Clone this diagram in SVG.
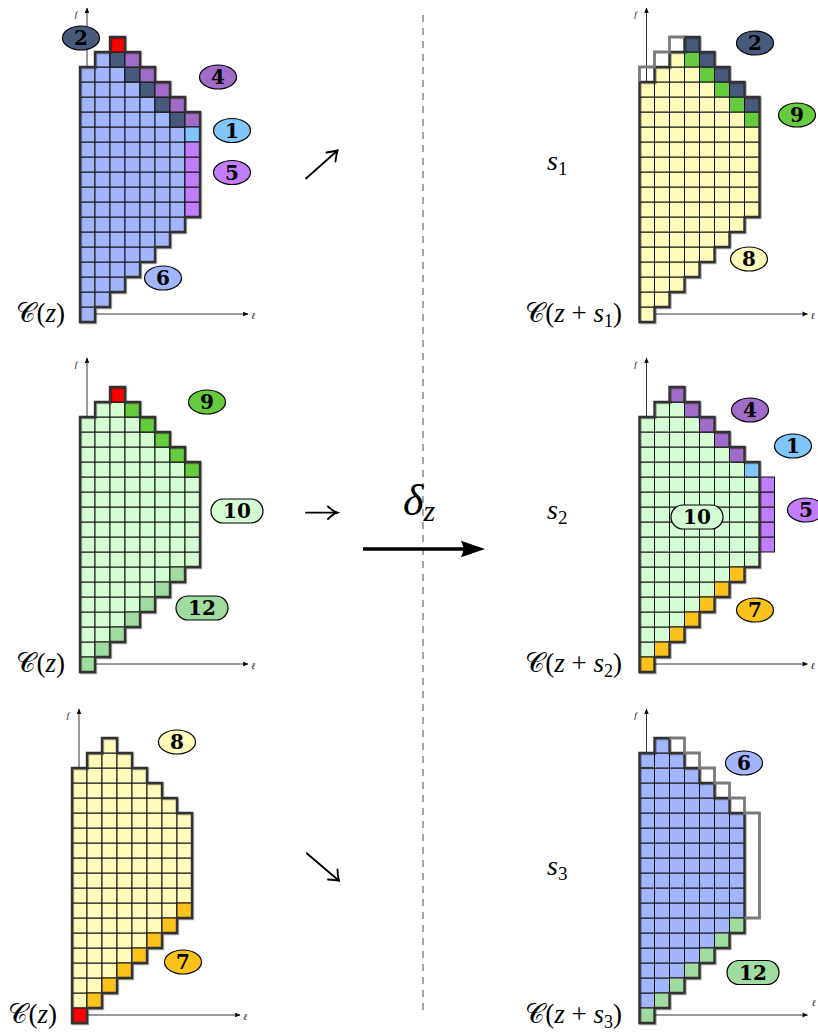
<svg xmlns="http://www.w3.org/2000/svg" xmlns:xlink="http://www.w3.org/1999/xlink" width="818" height="1035" viewBox="0 0 818 1035">
<style>
.g rect,.cells rect{width:15px;height:15px;stroke:#111;stroke-width:1}
.lb{fill:#a3b5fd}.nv{fill:#485a7b}.pu{fill:#a06cc8}.sk{fill:#80c6fd}.vi{fill:#c17dfb}.rd{fill:#ff0000}
.ye{fill:#fffbbb}.dg{fill:#66cc3e}.lg{fill:#d5fdd4}.mg{fill:#a0dba0}.or{fill:#fcc21c}
.cells .nv{fill:#485a7b}.cells .pu{fill:#a06cc8}.cells .sk{fill:#80c6fd}.cells .vi{fill:#c17dfb}.cells .rd{fill:#ff0000}
.cells .dg{fill:#66cc3e}.cells .mg{fill:#a0dba0}.cells .or{fill:#fcc21c}
.ol{fill:none;stroke:#333;stroke-width:2.4;filter:url(#sh)}
.gh{fill:none;stroke:#7a7a7a;stroke-width:2.8}
.ax{fill:none;stroke:#000;stroke-width:0.8;marker-end:url(#ah)}
.bd ellipse,.bd rect{stroke:#000;stroke-width:1.2}
.bd text{font-family:"DejaVu Serif",serif;font-weight:bold;font-size:20px;text-anchor:middle;fill:#000}
.m{font-family:"Liberation Serif",serif;fill:#000}
.cl{font-size:27px}
.sl{font-size:28px}
.it{font-style:italic}
.cal{font-family:"DejaVu Serif","DejaVu Sans","Noto Sans",serif;font-style:normal}
.sm{font-family:"Liberation Serif",serif;font-style:italic;font-size:9px}
.sym{fill:none;stroke:#000;stroke-width:1.8;stroke-linecap:round}
</style>
<defs>
<filter id="sh" x="-10%" y="-10%" width="120%" height="120%"><feDropShadow dx="0.8" dy="0.8" stdDeviation="0.7" flood-color="#000" flood-opacity="0.45"/></filter>
<marker id="ah" viewBox="0 0 10 10" refX="9" refY="5" markerWidth="6" markerHeight="6" orient="auto" markerUnits="userSpaceOnUse"><path d="M0,1 L10,5 L0,9 Q2.5,5 0,1Z" fill="#000"/></marker>
<g id="shA" class="g">
<rect x="0" y="-15"/><rect x="0" y="-30"/><rect x="0" y="-45"/><rect x="0" y="-60"/><rect x="0" y="-75"/><rect x="0" y="-90"/><rect x="0" y="-105"/><rect x="0" y="-120"/><rect x="0" y="-135"/><rect x="0" y="-150"/><rect x="0" y="-165"/><rect x="0" y="-180"/><rect x="0" y="-195"/><rect x="0" y="-210"/><rect x="0" y="-225"/><rect x="0" y="-240"/><rect x="0" y="-255"/>
<rect x="15" y="-30"/><rect x="15" y="-45"/><rect x="15" y="-60"/><rect x="15" y="-75"/><rect x="15" y="-90"/><rect x="15" y="-105"/><rect x="15" y="-120"/><rect x="15" y="-135"/><rect x="15" y="-150"/><rect x="15" y="-165"/><rect x="15" y="-180"/><rect x="15" y="-195"/><rect x="15" y="-210"/><rect x="15" y="-225"/><rect x="15" y="-240"/><rect x="15" y="-255"/><rect x="15" y="-270"/>
<rect x="30" y="-45"/><rect x="30" y="-60"/><rect x="30" y="-75"/><rect x="30" y="-90"/><rect x="30" y="-105"/><rect x="30" y="-120"/><rect x="30" y="-135"/><rect x="30" y="-150"/><rect x="30" y="-165"/><rect x="30" y="-180"/><rect x="30" y="-195"/><rect x="30" y="-210"/><rect x="30" y="-225"/><rect x="30" y="-240"/><rect x="30" y="-255"/><rect x="30" y="-270"/><rect x="30" y="-285"/>
<rect x="45" y="-60"/><rect x="45" y="-75"/><rect x="45" y="-90"/><rect x="45" y="-105"/><rect x="45" y="-120"/><rect x="45" y="-135"/><rect x="45" y="-150"/><rect x="45" y="-165"/><rect x="45" y="-180"/><rect x="45" y="-195"/><rect x="45" y="-210"/><rect x="45" y="-225"/><rect x="45" y="-240"/><rect x="45" y="-255"/><rect x="45" y="-270"/>
<rect x="60" y="-75"/><rect x="60" y="-90"/><rect x="60" y="-105"/><rect x="60" y="-120"/><rect x="60" y="-135"/><rect x="60" y="-150"/><rect x="60" y="-165"/><rect x="60" y="-180"/><rect x="60" y="-195"/><rect x="60" y="-210"/><rect x="60" y="-225"/><rect x="60" y="-240"/><rect x="60" y="-255"/>
<rect x="75" y="-90"/><rect x="75" y="-105"/><rect x="75" y="-120"/><rect x="75" y="-135"/><rect x="75" y="-150"/><rect x="75" y="-165"/><rect x="75" y="-180"/><rect x="75" y="-195"/><rect x="75" y="-210"/><rect x="75" y="-225"/><rect x="75" y="-240"/>
<rect x="90" y="-105"/><rect x="90" y="-120"/><rect x="90" y="-135"/><rect x="90" y="-150"/><rect x="90" y="-165"/><rect x="90" y="-180"/><rect x="90" y="-195"/><rect x="90" y="-210"/><rect x="90" y="-225"/>
<rect x="105" y="-120"/><rect x="105" y="-135"/><rect x="105" y="-150"/><rect x="105" y="-165"/><rect x="105" y="-180"/><rect x="105" y="-195"/><rect x="105" y="-210"/>
</g>
<path id="olA" d="M0,0V-255H15V-270H30V-285H45V-270H60V-255H75V-240H90V-225H105V-210H120V-105H105V-90H90V-75H75V-60H60V-45H45V-30H30V-15H15V0Z"/>
</defs>
<rect width="818" height="1035" fill="#fff"/>

<g id="connectors">
<line x1="423" y1="15" x2="423" y2="1010" stroke="#777" stroke-width="1.3" stroke-dasharray="7 6"/>
<g id="arrow-s1" class="sym"><path d="M306,178.5 L337.5,150.5"/><path d="M326.5,152.5 Q333,151.5 337.5,150.5 Q336,156 335.5,161.5"/></g>
<g id="arrow-s2" class="sym"><path d="M306,512.7 H337.3"/><path d="M328,506.5 Q333,511.5 337.3,512.7 Q333,514 328,519"/></g>
<g id="arrow-s3" class="sym"><path d="M306.7,853.3 L339,880.7"/><path d="M328,879.5 Q334,880 339,880.7 Q337.5,875.5 337.5,869.5"/></g>
<g id="arrow-delta"><path d="M363,549 H467" stroke="#000" stroke-width="3.4" fill="none"/><path d="M485,549 L461,540.8 Q465.5,549 461,557.2 Z" fill="#000"/></g>
</g>
<text class="m it" x="403" y="515" style="font-size:44px">δ<tspan style="font-size:30px" dy="6">z</tspan></text>
<text class="m it sl" x="547" y="170">s<tspan style="font-style:normal;font-size:19px" dy="5">1</tspan></text>
<text class="m it sl" x="547" y="519">s<tspan style="font-style:normal;font-size:19px" dy="5">2</tspan></text>
<text class="m it sl" x="547" y="875">s<tspan style="font-style:normal;font-size:19px" dy="5">3</tspan></text>

<!-- Panel 1: C(z), top left -->
<g id="panel-tl">
<g transform="translate(80,322)">
<path class="ax" d="M7,-8 V-314"/><path class="ax" d="M7,-8 H168"/>
<text class="sm" x="-4" y="-305" text-anchor="middle">f</text><text class="sm" x="173" y="-3" text-anchor="middle">ℓ</text>
<use href="#shA" class="lb"/>
<g class="cells">
<rect class="nv" x="30" y="-270"/><rect class="nv" x="45" y="-255"/><rect class="nv" x="60" y="-240"/><rect class="nv" x="75" y="-225"/><rect class="nv" x="90" y="-210"/>
<rect class="rd" x="30" y="-285"/>
<rect class="pu" x="45" y="-270"/><rect class="pu" x="60" y="-255"/><rect class="pu" x="75" y="-240"/><rect class="pu" x="90" y="-225"/><rect class="pu" x="105" y="-210"/>
<rect class="sk" x="105" y="-195"/>
<rect class="vi" x="105" y="-120"/><rect class="vi" x="105" y="-135"/><rect class="vi" x="105" y="-150"/><rect class="vi" x="105" y="-165"/><rect class="vi" x="105" y="-180"/>
</g>
<use href="#olA" class="ol"/>
</g>
<text class="m cl" x="65" y="322" text-anchor="end"><tspan class="cal">𝒞</tspan>(<tspan class="it">z</tspan>)</text>
<g id="tl-b2" class="bd"><ellipse class="nv" cx="81" cy="38" rx="18.5" ry="12"/><text x="81" y="45">2</text></g>
<g id="tl-b4" class="bd"><ellipse class="pu" cx="218" cy="77" rx="18.5" ry="12"/><text x="218" y="84">4</text></g>
<g id="tl-b1" class="bd"><ellipse class="sk" cx="232" cy="130.5" rx="18.5" ry="12"/><text x="232" y="137.5">1</text></g>
<g id="tl-b5" class="bd"><ellipse class="vi" cx="232" cy="172.5" rx="18.5" ry="12"/><text x="232" y="179.5">5</text></g>
<g id="tl-b6" class="bd"><ellipse class="lb" cx="163" cy="278" rx="18.5" ry="12"/><text x="163" y="285">6</text></g>
</g>

<!-- Panel 2: C(z+s1), top right -->
<g id="panel-tr">
<g transform="translate(639.5,322)">
<path class="ax" d="M7,-8 V-314"/><path class="ax" d="M7,-8 H168"/>
<text class="sm" x="-4" y="-305" text-anchor="middle">f</text><text class="sm" x="173" y="-3" text-anchor="middle">ℓ</text>
<g class="cells ye">
<rect x="0" y="-15"/><rect x="0" y="-30"/><rect x="0" y="-45"/><rect x="0" y="-60"/><rect x="0" y="-75"/><rect x="0" y="-90"/><rect x="0" y="-105"/><rect x="0" y="-120"/><rect x="0" y="-135"/><rect x="0" y="-150"/><rect x="0" y="-165"/><rect x="0" y="-180"/><rect x="0" y="-195"/><rect x="0" y="-210"/><rect x="0" y="-225"/><rect x="0" y="-240"/>
<rect x="15" y="-30"/><rect x="15" y="-45"/><rect x="15" y="-60"/><rect x="15" y="-75"/><rect x="15" y="-90"/><rect x="15" y="-105"/><rect x="15" y="-120"/><rect x="15" y="-135"/><rect x="15" y="-150"/><rect x="15" y="-165"/><rect x="15" y="-180"/><rect x="15" y="-195"/><rect x="15" y="-210"/><rect x="15" y="-225"/><rect x="15" y="-240"/><rect x="15" y="-255"/>
<rect x="30" y="-45"/><rect x="30" y="-60"/><rect x="30" y="-75"/><rect x="30" y="-90"/><rect x="30" y="-105"/><rect x="30" y="-120"/><rect x="30" y="-135"/><rect x="30" y="-150"/><rect x="30" y="-165"/><rect x="30" y="-180"/><rect x="30" y="-195"/><rect x="30" y="-210"/><rect x="30" y="-225"/><rect x="30" y="-240"/><rect x="30" y="-255"/><rect x="30" y="-270"/>
<rect x="45" y="-60"/><rect x="45" y="-75"/><rect x="45" y="-90"/><rect x="45" y="-105"/><rect x="45" y="-120"/><rect x="45" y="-135"/><rect x="45" y="-150"/><rect x="45" y="-165"/><rect x="45" y="-180"/><rect x="45" y="-195"/><rect x="45" y="-210"/><rect x="45" y="-225"/><rect x="45" y="-240"/><rect x="45" y="-255"/>
<rect x="60" y="-75"/><rect x="60" y="-90"/><rect x="60" y="-105"/><rect x="60" y="-120"/><rect x="60" y="-135"/><rect x="60" y="-150"/><rect x="60" y="-165"/><rect x="60" y="-180"/><rect x="60" y="-195"/><rect x="60" y="-210"/><rect x="60" y="-225"/><rect x="60" y="-240"/>
<rect x="75" y="-90"/><rect x="75" y="-105"/><rect x="75" y="-120"/><rect x="75" y="-135"/><rect x="75" y="-150"/><rect x="75" y="-165"/><rect x="75" y="-180"/><rect x="75" y="-195"/><rect x="75" y="-210"/><rect x="75" y="-225"/>
<rect x="90" y="-105"/><rect x="90" y="-120"/><rect x="90" y="-135"/><rect x="90" y="-150"/><rect x="90" y="-165"/><rect x="90" y="-180"/><rect x="90" y="-195"/><rect x="90" y="-210"/>
<rect x="105" y="-120"/><rect x="105" y="-135"/><rect x="105" y="-150"/><rect x="105" y="-165"/><rect x="105" y="-180"/><rect x="105" y="-195"/>
<rect class="dg" x="45" y="-270"/><rect class="dg" x="60" y="-255"/><rect class="dg" x="75" y="-240"/><rect class="dg" x="90" y="-225"/><rect class="dg" x="105" y="-210"/>
<rect class="nv" x="45" y="-285"/><rect class="nv" x="60" y="-270"/><rect class="nv" x="75" y="-255"/><rect class="nv" x="90" y="-240"/><rect class="nv" x="105" y="-225"/>
</g>
<path class="ol" d="M0,0V-240H15V-255H30V-270H45V-285H60V-270H75V-255H90V-240H105V-225H120V-105H105V-90H90V-75H75V-60H60V-45H45V-30H30V-15H15V0Z"/>
<path class="gh" d="M0,-240V-255H15V-270H30V-285H45"/>
</g>
<text class="m cl" x="622" y="322" text-anchor="end"><tspan class="cal">𝒞</tspan>(<tspan class="it">z</tspan> + <tspan class="it">s</tspan><tspan style="font-size:18px" dy="5">1</tspan><tspan dy="-5">)</tspan></text>
<g id="tr-b2" class="bd"><ellipse class="nv" cx="755" cy="43" rx="18.5" ry="12"/><text x="755" y="50">2</text></g>
<g id="tr-b9" class="bd"><ellipse class="dg" cx="797" cy="115" rx="18.5" ry="12"/><text x="797" y="122">9</text></g>
<g id="tr-b8" class="bd"><ellipse class="ye" cx="749" cy="259" rx="18.5" ry="12"/><text x="749" y="266">8</text></g>
</g>

<!-- Panel 3: C(z), middle left -->
<g id="panel-ml">
<g transform="translate(80,672)">
<path class="ax" d="M7,-8 V-314"/><path class="ax" d="M7,-8 H168"/>
<text class="sm" x="-4" y="-305" text-anchor="middle">f</text><text class="sm" x="173" y="-3" text-anchor="middle">ℓ</text>
<use href="#shA" class="lg"/>
<g class="cells">
<rect class="mg" x="0" y="-15"/><rect class="mg" x="15" y="-30"/><rect class="mg" x="30" y="-45"/><rect class="mg" x="45" y="-60"/><rect class="mg" x="60" y="-75"/><rect class="mg" x="75" y="-90"/><rect class="mg" x="90" y="-105"/>
<rect class="rd" x="30" y="-285"/>
<rect class="dg" x="45" y="-270"/><rect class="dg" x="60" y="-255"/><rect class="dg" x="75" y="-240"/><rect class="dg" x="90" y="-225"/><rect class="dg" x="105" y="-210"/>
</g>
<use href="#olA" class="ol"/>
</g>
<text class="m cl" x="65" y="672" text-anchor="end"><tspan class="cal">𝒞</tspan>(<tspan class="it">z</tspan>)</text>
<g id="ml-b9" class="bd"><ellipse class="dg" cx="207" cy="402" rx="18.5" ry="12"/><text x="207" y="409">9</text></g>
<g id="ml-b10" class="bd"><rect class="lg" x="211" y="499" width="52" height="24" rx="12"/><text x="237" y="518">10</text></g>
<g id="ml-b12" class="bd"><rect class="mg" x="176" y="596" width="52" height="24" rx="12"/><text x="202" y="615">12</text></g>
</g>

<!-- Panel 4: C(z+s2), middle right -->
<g id="panel-mr">
<g transform="translate(639.5,672)">
<path class="ax" d="M7,-8 V-314"/><path class="ax" d="M7,-8 H168"/>
<text class="sm" x="-4" y="-305" text-anchor="middle">f</text><text class="sm" x="173" y="-3" text-anchor="middle">ℓ</text>
<use href="#shA" class="lg"/>
<g class="cells">
<rect class="or" x="0" y="-15"/><rect class="or" x="15" y="-30"/><rect class="or" x="30" y="-45"/><rect class="or" x="45" y="-60"/><rect class="or" x="60" y="-75"/><rect class="or" x="75" y="-90"/><rect class="or" x="90" y="-105"/>
<rect class="pu" x="30" y="-285"/><rect class="pu" x="45" y="-270"/><rect class="pu" x="60" y="-255"/><rect class="pu" x="75" y="-240"/><rect class="pu" x="90" y="-225"/>
<rect class="sk" x="105" y="-210"/>
<rect class="vi" x="120" y="-135"/><rect class="vi" x="120" y="-150"/><rect class="vi" x="120" y="-165"/><rect class="vi" x="120" y="-180"/><rect class="vi" x="120" y="-195"/>
</g>
<use href="#olA" class="ol"/>
</g>
<text class="m cl" x="622" y="672" text-anchor="end"><tspan class="cal">𝒞</tspan>(<tspan class="it">z</tspan> + <tspan class="it">s</tspan><tspan style="font-size:18px" dy="5">2</tspan><tspan dy="-5">)</tspan></text>
<g id="mr-b4" class="bd"><ellipse class="pu" cx="750" cy="410" rx="18.5" ry="12"/><text x="750" y="417">4</text></g>
<g id="mr-b1" class="bd"><ellipse class="sk" cx="793" cy="446" rx="18.5" ry="12"/><text x="793" y="453">1</text></g>
<g id="mr-b5" class="bd"><ellipse class="vi" cx="806" cy="510" rx="18.5" ry="12"/><text x="806" y="517">5</text></g>
<g id="mr-b10" class="bd"><rect class="lg" x="671" y="505" width="52" height="24" rx="12"/><text x="697" y="524">10</text></g>
<g id="mr-b7" class="bd"><ellipse class="or" cx="755" cy="610" rx="18.5" ry="12"/><text x="755" y="617">7</text></g>
</g>

<!-- Panel 5: C(z), bottom left -->
<g id="panel-bl">
<g transform="translate(72,1023)">
<path class="ax" d="M7,-8 V-314"/><path class="ax" d="M7,-8 H168"/>
<text class="sm" x="-4" y="-305" text-anchor="middle">f</text><text class="sm" x="173" y="-3" text-anchor="middle">ℓ</text>
<use href="#shA" class="ye"/>
<g class="cells">
<rect class="rd" x="0" y="-15"/>
<rect class="or" x="15" y="-30"/><rect class="or" x="30" y="-45"/><rect class="or" x="45" y="-60"/><rect class="or" x="60" y="-75"/><rect class="or" x="75" y="-90"/><rect class="or" x="90" y="-105"/><rect class="or" x="105" y="-120"/>
</g>
<use href="#olA" class="ol"/>
</g>
<text class="m cl" x="57" y="1023" text-anchor="end"><tspan class="cal">𝒞</tspan>(<tspan class="it">z</tspan>)</text>
<g id="bl-b8" class="bd"><ellipse class="ye" cx="177" cy="742" rx="18.5" ry="12"/><text x="177" y="749">8</text></g>
<g id="bl-b7" class="bd"><ellipse class="or" cx="183" cy="962" rx="18.5" ry="12"/><text x="183" y="969">7</text></g>
</g>

<!-- Panel 6: C(z+s3), bottom right -->
<g id="panel-br">
<g transform="translate(639.5,1023)">
<path class="ax" d="M7,-8 V-314"/><path class="ax" d="M7,-8 H168"/>
<text class="sm" x="-4" y="-305" text-anchor="middle">f</text><text class="sm" x="174" y="-17" text-anchor="middle">ℓ</text>
<g class="cells lb">
<rect x="0" y="-15"/><rect x="0" y="-30"/><rect x="0" y="-45"/><rect x="0" y="-60"/><rect x="0" y="-75"/><rect x="0" y="-90"/><rect x="0" y="-105"/><rect x="0" y="-120"/><rect x="0" y="-135"/><rect x="0" y="-150"/><rect x="0" y="-165"/><rect x="0" y="-180"/><rect x="0" y="-195"/><rect x="0" y="-210"/><rect x="0" y="-225"/><rect x="0" y="-240"/><rect x="0" y="-255"/><rect x="0" y="-270"/>
<rect x="15" y="-30"/><rect x="15" y="-45"/><rect x="15" y="-60"/><rect x="15" y="-75"/><rect x="15" y="-90"/><rect x="15" y="-105"/><rect x="15" y="-120"/><rect x="15" y="-135"/><rect x="15" y="-150"/><rect x="15" y="-165"/><rect x="15" y="-180"/><rect x="15" y="-195"/><rect x="15" y="-210"/><rect x="15" y="-225"/><rect x="15" y="-240"/><rect x="15" y="-255"/><rect x="15" y="-270"/><rect x="15" y="-285"/>
<rect x="30" y="-45"/><rect x="30" y="-60"/><rect x="30" y="-75"/><rect x="30" y="-90"/><rect x="30" y="-105"/><rect x="30" y="-120"/><rect x="30" y="-135"/><rect x="30" y="-150"/><rect x="30" y="-165"/><rect x="30" y="-180"/><rect x="30" y="-195"/><rect x="30" y="-210"/><rect x="30" y="-225"/><rect x="30" y="-240"/><rect x="30" y="-255"/><rect x="30" y="-270"/>
<rect x="45" y="-60"/><rect x="45" y="-75"/><rect x="45" y="-90"/><rect x="45" y="-105"/><rect x="45" y="-120"/><rect x="45" y="-135"/><rect x="45" y="-150"/><rect x="45" y="-165"/><rect x="45" y="-180"/><rect x="45" y="-195"/><rect x="45" y="-210"/><rect x="45" y="-225"/><rect x="45" y="-240"/><rect x="45" y="-255"/>
<rect x="60" y="-75"/><rect x="60" y="-90"/><rect x="60" y="-105"/><rect x="60" y="-120"/><rect x="60" y="-135"/><rect x="60" y="-150"/><rect x="60" y="-165"/><rect x="60" y="-180"/><rect x="60" y="-195"/><rect x="60" y="-210"/><rect x="60" y="-225"/><rect x="60" y="-240"/>
<rect x="75" y="-90"/><rect x="75" y="-105"/><rect x="75" y="-120"/><rect x="75" y="-135"/><rect x="75" y="-150"/><rect x="75" y="-165"/><rect x="75" y="-180"/><rect x="75" y="-195"/><rect x="75" y="-210"/><rect x="75" y="-225"/>
<rect x="90" y="-105"/><rect x="90" y="-120"/><rect x="90" y="-135"/><rect x="90" y="-150"/><rect x="90" y="-165"/><rect x="90" y="-180"/><rect x="90" y="-195"/><rect x="90" y="-210"/>
<rect class="mg" x="0" y="-15"/><rect class="mg" x="15" y="-30"/><rect class="mg" x="30" y="-45"/><rect class="mg" x="45" y="-60"/><rect class="mg" x="60" y="-75"/><rect class="mg" x="75" y="-90"/><rect class="mg" x="90" y="-105"/>
</g>
<path class="ol" d="M0,0V-270H15V-285H30V-270H45V-255H60V-240H75V-225H90V-210H105V-90H90V-75H75V-60H60V-45H45V-30H30V-15H15V0Z"/>
<path class="gh" d="M30,-285H45V-270H60V-255H75V-240H90V-225H105V-210H120V-105H105"/>
<path d="M0,-255H15" fill="none" stroke="#333" stroke-width="2.2"/>
</g>
<text class="m cl" x="622" y="1023" text-anchor="end"><tspan class="cal">𝒞</tspan>(<tspan class="it">z</tspan> + <tspan class="it">s</tspan><tspan style="font-size:18px" dy="5">3</tspan><tspan dy="-5">)</tspan></text>
<g id="br-b6" class="bd"><ellipse class="lb" cx="744" cy="763" rx="18.5" ry="12"/><text x="744" y="770">6</text></g>
<g id="br-b12" class="bd"><rect class="mg" x="727" y="960.5" width="52" height="24" rx="12"/><text x="753" y="979.5">12</text></g>
</g>
</svg>
